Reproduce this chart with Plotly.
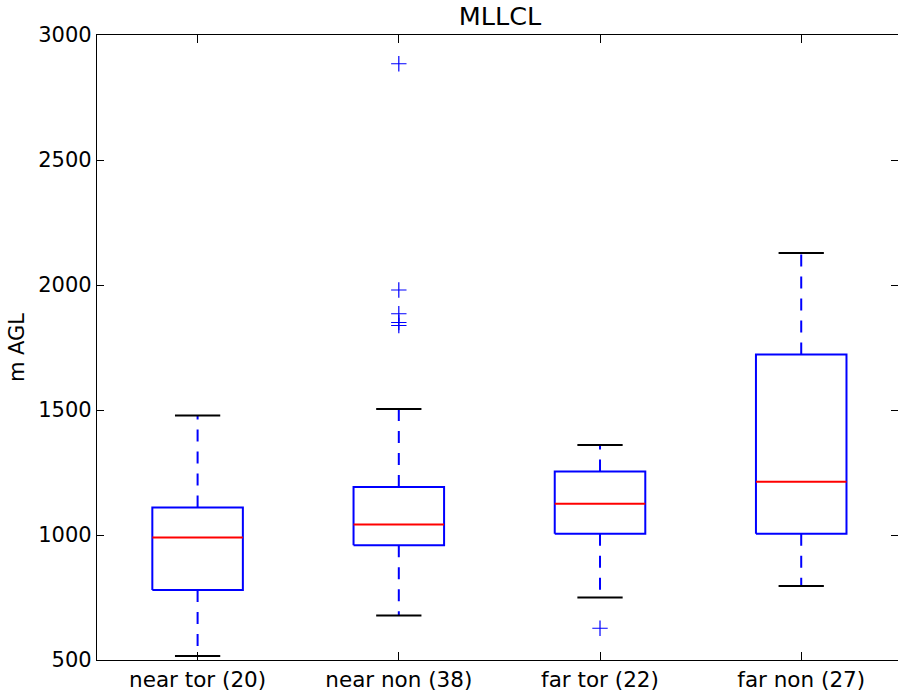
import plotly.graph_objects as go

# Box-plot statistics for mixed-layer LCL height (m AGL)
categories = ["near tor (20)", "near non (38)", "far tor (22)", "far non (27)"]
q1 = [780, 959, 1005, 1005]
median = [990, 1042, 1125, 1213]
q3 = [1110, 1192, 1254, 1722]
lower_whisker = [516, 678, 750, 796]
upper_whisker = [1478, 1504, 1360, 2128]
outliers = [[], [2885, 1980, 1885, 1850, 1838], [627], []]

BOX_W = 0.45
CAP_W = 0.225
BLUE = "#0000ff"
RED = "#ff0000"

fig = go.Figure()

for i, name in enumerate(categories):
    p = i + 1
    hb, hc = BOX_W / 2, CAP_W / 2
    # box outline
    fig.add_trace(go.Scatter(
        x=[p - hb, p + hb, p + hb, p - hb, p - hb],
        y=[q1[i], q1[i], q3[i], q3[i], q1[i]],
        mode="lines", line=dict(color=BLUE, width=2), hoverinfo="skip"))
    # whiskers
    for a, b in ((q3[i], upper_whisker[i]), (q1[i], lower_whisker[i])):
        fig.add_trace(go.Scatter(
            x=[p, p], y=[a, b], mode="lines",
            line=dict(color=BLUE, width=2, dash="12px,10px"), hoverinfo="skip"))
    # caps
    for v in (upper_whisker[i], lower_whisker[i]):
        fig.add_trace(go.Scatter(
            x=[p - hc, p + hc], y=[v, v], mode="lines",
            line=dict(color="black", width=2), hoverinfo="skip"))
    # median
    fig.add_trace(go.Scatter(
        x=[p - hb, p + hb], y=[median[i], median[i]], mode="lines",
        line=dict(color=RED, width=2), hoverinfo="skip"))
    # fliers
    if outliers[i]:
        fig.add_trace(go.Scatter(
            x=[p] * len(outliers[i]), y=outliers[i], mode="markers",
            marker=dict(symbol="cross-thin-open", size=11, color=BLUE,
                        line=dict(color=BLUE, width=1.2)),
            hoverinfo="skip"))

FONT = "DejaVu Sans"
fig.update_layout(
    width=898, height=696,
    margin=dict(l=97, r=0, t=35, b=36),
    paper_bgcolor="white", plot_bgcolor="white",
    showlegend=False,
    font=dict(family=FONT, size=21, color="black"),
    title=dict(text="MLLCL", x=(500 - 97) / 801, xref="paper", xanchor="center",
               y=1, yref="container", yanchor="top", pad=dict(t=7),
               font=dict(family=FONT, size=25.5, color="black")),
)
# the axes run slightly past the right edge of the figure
fig.update_xaxes(
    range=[0.5, 4.481], tickmode="array", tickvals=[1, 2, 3, 4], ticktext=categories,
    showgrid=False, zeroline=False, showline=True, linecolor="black", linewidth=1.2,
    mirror="allticks", ticks="inside", ticklen=8, tickcolor="black",
    tickfont=dict(family=FONT, size=21.5))
fig.update_yaxes(
    range=[500, 3000], tickmode="array", tickvals=[500, 1000, 1500, 2000, 2500, 3000],
    showgrid=False, zeroline=False, showline=True, linecolor="black", linewidth=1.2,
    mirror="allticks", ticks="inside", ticklen=7, tickcolor="black",
    tickfont=dict(family=FONT, size=21),
    title=dict(text="m AGL", font=dict(family=FONT, size=21), standoff=7))

fig.write_html("out.html")
